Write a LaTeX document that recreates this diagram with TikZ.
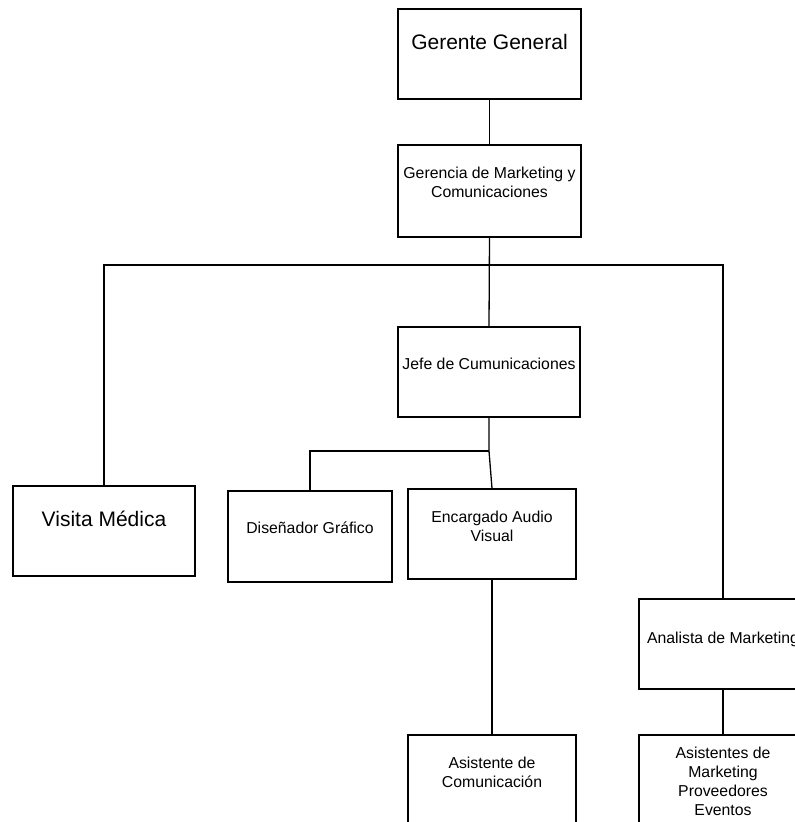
\documentclass[tikz,border=0pt]{standalone}
\usepackage{fontspec}
\setmainfont{Liberation Sans}
\begin{document}
\begin{tikzpicture}[x=1pt,y=-1pt,
  box/.style={draw=black,line width=1.3pt,rectangle,inner sep=0pt,minimum width=#1},
  box/.default=168pt,
  big/.style={anchor=base,inner sep=0pt,font=\fontsize{21}{24}\selectfont},
  small/.style={anchor=base,inner sep=0pt,align=center,font=\fontsize{15.8}{19}\selectfont},
  conn/.style={line width=1.3pt,line join=miter}]
\useasboundingbox (0,0) rectangle (795,822);
\clip (0,0) rectangle (795,822);
% boxes
\node[box=183pt,minimum height=90pt] (g) at (489.5,54) {};
\node[box=183pt,minimum height=92pt] (gm) at (489.5,191) {};
\node[box=182pt,minimum height=90pt] (j) at (489,372) {};
\node[box=182pt,minimum height=90pt] (v) at (104,531) {};
\node[box=164pt,minimum height=91pt] (d) at (310,536.5) {};
\node[box,minimum height=90pt] (e) at (492,534) {};
\node[box,minimum height=90pt] (a) at (723,644) {};
\node[box,minimum height=90pt] (ac) at (492,780) {};
\node[box,minimum height=90pt] (am) at (723,780) {};
% texts (base = baseline of last line)
\node[big] (tg) at (489.5,49.5) {Gerente General};
\node[small] (tgm) at (489.5,197) {Gerencia de Marketing y\\Comunicaciones};
\node[small] (tj) at (489,369) {Jefe de Cumunicaciones};
\node[big] (tv) at (104,526) {Visita Médica};
\node[small] (td) at (310,533) {Diseñador Gráfico};
\node[small] (te) at (492,541) {Encargado Audio\\Visual};
\node[small] (ta) at (723,643) {Analista de Marketing};
\node[small] (tac) at (492,787) {Asistente de\\Comunicación};
\node[small] (tam) at (723,815) {Asistentes de\\Marketing\\Proveedores\\Eventos};
% connectors
\coordinate (hub) at (489.5,265);
\coordinate (jhub) at (489,451);
\draw[conn] (g.south) -- (gm.north);
\draw[conn] (gm.south) -- (j.north);
\draw[conn] (v.north) |- (hub) -| (a.north);
\draw[conn] (j.south) -- (jhub) -- (e.north);
\draw[conn] (jhub) -| (d.north);
\draw[conn] (e.south) -- (ac.north);
\draw[conn] (a.south) -- (am.north);
\end{tikzpicture}
\end{document}
